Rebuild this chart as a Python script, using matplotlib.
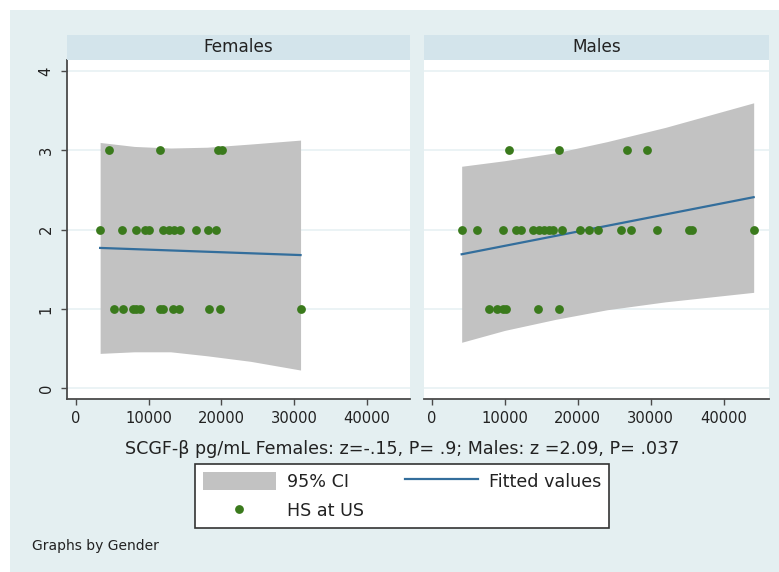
import matplotlib
matplotlib.use("Agg")
import matplotlib.pyplot as plt
from matplotlib.patches import Rectangle, Patch
from matplotlib.lines import Line2D

plt.rcParams['font.family'] = ['DejaVu Sans']

# ---------------- data ----------------
panels = ["Females", "Males"]

fem_x = [4460, 11560, 19600, 20100,
         3300, 6350, 8200, 9500, 10000, 11900, 12750, 13500, 14300, 16500, 18100, 19300,
         5250, 6500, 7800, 8300, 8850, 11500, 12000, 13400, 14100, 18300, 19750, 30900]
fem_y = [3, 3, 3, 3,
         2, 2, 2, 2, 2, 2, 2, 2, 2, 2, 2, 2,
         1, 1, 1, 1, 1, 1, 1, 1, 1, 1, 1, 1]

mal_x = [10600, 17400, 26700, 29500,
         4100, 6200, 9800, 11500, 12200, 13900, 14700, 15400, 16100, 16600, 17900,
         20300, 21600, 22800, 25900, 27300, 30800, 35300, 35700, 44100,
         7850, 9000, 9800, 10200, 14500, 17400]
mal_y = [3, 3, 3, 3,
         2, 2, 2, 2, 2, 2, 2, 2, 2, 2, 2,
         2, 2, 2, 2, 2, 2, 2, 2, 2,
         1, 1, 1, 1, 1, 1]

fem_fit_x = [3300, 30900]
fem_fit_y = [1.77, 1.68]
fem_ci_x = [3300, 8000, 13000, 18000, 24000, 30900]
fem_ci_hi = [3.10, 3.05, 3.03, 3.04, 3.08, 3.13]
fem_ci_lo = [0.44, 0.46, 0.46, 0.41, 0.34, 0.23]

mal_fit_x = [4100, 44100]
mal_fit_y = [1.69, 2.41]
mal_ci_x = [4100, 10000, 17000, 24000, 32000, 44100]
mal_ci_hi = [2.80, 2.87, 2.97, 3.11, 3.29, 3.60]
mal_ci_lo = [0.58, 0.73, 0.87, 0.99, 1.09, 1.21]

x_ticks = [0, 10000, 20000, 30000, 40000]
y_ticks = [0, 1, 2, 3, 4]
xlabel = "SCGF-β pg/mL Females: z=-.15, P= .9; Males: z =2.09, P= .037"
legend_labels = ["95% CI", "HS at US", "Fitted values"]
note = "Graphs by Gender"

# ---------------- style ----------------
W, H = 779, 572
BG = "#e4eff1"
STRIP = "#d3e4eb"
GRID = "#e8f1f3"
CI_COL = "#c2c2c2"
PT_COL = "#3a7a1c"
LN_COL = "#336e9c"
AX_COL = "#4a4a4a"
TXT = "#222222"
FS_TICK = 10.6
FS_TITLE = 12.2
FS_LAB = 12.65
FS_LEG = 12.6
MS = 40

fig = plt.figure(figsize=(W / 100, H / 100), dpi=100, facecolor="white")
fig.patches.append(Rectangle((10 / W, 0), 1 - 10 / W, 1 - 10 / H,
                             transform=fig.transFigure, facecolor=BG,
                             edgecolor="none", zorder=-10))

def fx(px):
    return px / W

def fy(py):
    return 1 - py / H

ax_top, ax_bot = 60, 399.3
panel_x = [(66.5, 410), (424, 769)]
xlims = [(-1330, 45970), (-1060, 46200)]
ylim = (-0.139, 4.14)

data = [(fem_x, fem_y, fem_fit_x, fem_fit_y, fem_ci_x, fem_ci_hi, fem_ci_lo),
        (mal_x, mal_y, mal_fit_x, mal_fit_y, mal_ci_x, mal_ci_hi, mal_ci_lo)]

for i, (name, (x0, x1), d) in enumerate(zip(panels, panel_x, data)):
    ax = fig.add_axes([fx(x0), fy(ax_bot), fx(x1 - x0), (ax_bot - ax_top) / H])
    ax.set_facecolor("white")
    px, py, fitx, fity, cix, cihi, cilo = d
    ax.fill_between(cix, cilo, cihi, color=CI_COL, linewidth=0, zorder=2)
    ax.plot(fitx, fity, color=LN_COL, lw=1.6, zorder=3)
    ax.scatter(px, py, s=MS, color=PT_COL, linewidths=0, zorder=4)
    ax.set_xlim(*xlims[i])
    ax.set_ylim(*ylim)
    ax.set_xticks(x_ticks)
    ax.set_xticklabels([str(t) for t in x_ticks], fontsize=FS_TICK, color=TXT)
    ax.set_yticks(y_ticks)
    ax.grid(axis="y", color=GRID, lw=1.2, zorder=1)
    ax.set_axisbelow(True)
    for s in ["top", "right"]:
        ax.spines[s].set_visible(False)
    ax.spines["bottom"].set_color(AX_COL)
    ax.spines["bottom"].set_linewidth(1.3)
    ax.tick_params(axis="x", direction="out", length=4.3, width=1.0,
                   color=AX_COL, pad=4.0)
    if i == 0:
        ax.spines["left"].set_color(AX_COL)
        ax.spines["left"].set_linewidth(1.3)
        ax.set_yticklabels([str(t) for t in y_ticks], fontsize=FS_TICK, color=TXT,
                           rotation=90, va="center")
        ax.tick_params(axis="y", direction="out", length=4.3, width=1.0,
                       color=AX_COL, pad=5.0)
    else:
        ax.spines["left"].set_visible(False)
        ax.tick_params(axis="y", left=False, labelleft=False)
    # strip
    sax = fig.add_axes([fx(x0), fy(60), fx(x1 - x0), 25 / H])
    sax.set_facecolor(STRIP)
    sax.set_xticks([]); sax.set_yticks([])
    for s in sax.spines.values():
        s.set_visible(False)
    sax.text(0.5, 0.5, name, transform=sax.transAxes, ha="center",
             va="center", fontsize=FS_TITLE, color=TXT)

fig.text(fx(402), fy(448.5), xlabel, ha="center", va="center",
         fontsize=FS_LAB, color=TXT)

handles = [Patch(facecolor=CI_COL, edgecolor="none"),
           Line2D([], [], marker="o", ls="none", color=PT_COL,
                  markersize=MS ** 0.5, markeredgewidth=0),
           Line2D([], [], color=LN_COL, lw=1.6)]
leg = fig.legend(handles, legend_labels, loc="center",
                 bbox_to_anchor=(fx(402), fy(496)), ncol=2,
                 fontsize=FS_LEG, frameon=True, fancybox=False,
                 handlelength=4.2, handleheight=1.2, handletextpad=0.63,
                 columnspacing=2.3, labelspacing=0.58, borderpad=0.45,
                 borderaxespad=0, framealpha=1, facecolor="white")
leg.get_frame().set_edgecolor("#333333")
leg.get_frame().set_linewidth(1.2)
for t in leg.get_texts():
    t.set_color(TXT)

fig.text(fx(32.5), fy(546), note, ha="left", va="center", fontsize=10,
         color=TXT)

fig.savefig("out.png", dpi=100, facecolor="white")
